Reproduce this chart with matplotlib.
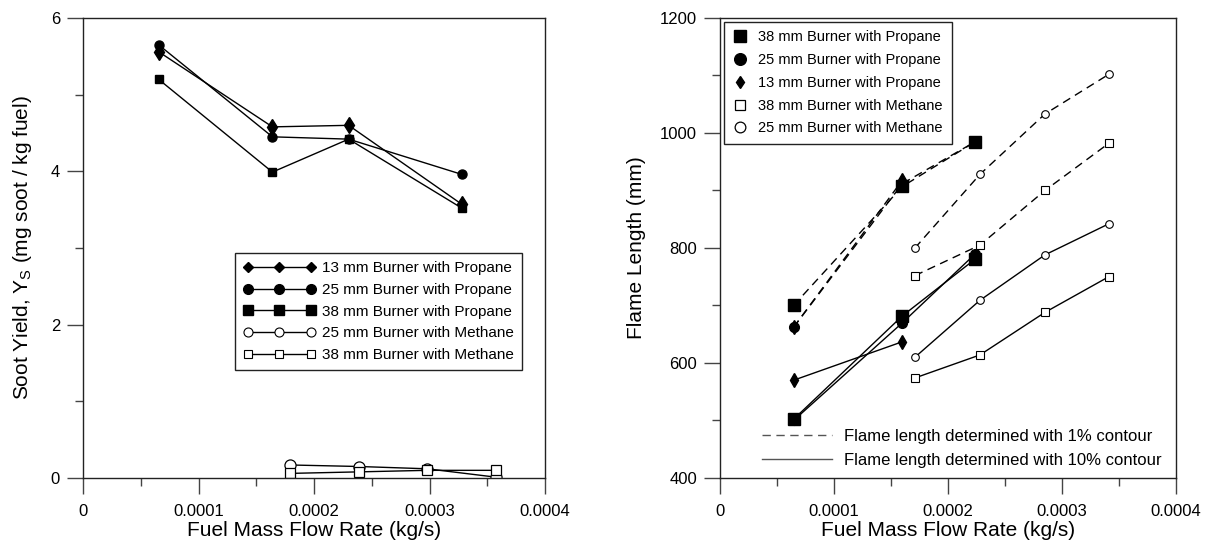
import matplotlib
matplotlib.use("Agg")
import matplotlib.pyplot as plt
from matplotlib.ticker import MultipleLocator, FuncFormatter
from matplotlib.lines import Line2D

plt.rcParams['font.family'] = ['Liberation Sans', 'DejaVu Sans']
plt.rcParams['mathtext.fontset'] = 'custom'
plt.rcParams['mathtext.rm'] = 'Liberation Sans'

# ---------------- Data: soot yield (left) ----------------
x_prop_soot = [0.0000655, 0.000164, 0.000230, 0.000328]
soot_13_prop = [5.56, 4.58, 4.60, 3.57]
soot_25_prop = [5.65, 4.45, 4.42, 3.96]
soot_38_prop = [5.20, 3.99, 4.42, 3.52]
x_meth_soot = [0.000179, 0.000239, 0.000298, 0.000358]
soot_25_meth = [0.17, 0.15, 0.12, 0.01]
soot_38_meth = [0.06, 0.08, 0.10, 0.10]

# ---------------- Data: flame length (right) ----------------
x_prop_fl = [0.0000645, 0.000160, 0.000224]
x_prop13_fl = [0.0000645, 0.000160]
fl_38_prop_1 = [700, 907, 985]
fl_38_prop_10 = [502, 682, 781]
fl_25_prop_1 = [662, 912, 985]
fl_25_prop_10 = [500, 670, 790]
fl_13_prop_1 = [662, 918]
fl_13_prop_10 = [570, 637]
x_meth_fl = [0.000171, 0.000228, 0.000285, 0.000341]
fl_25_meth_1 = [800, 928, 1033, 1102]
fl_25_meth_10 = [610, 709, 788, 842]
fl_38_meth_1 = [752, 805, 900, 982]
fl_38_meth_10 = [574, 614, 688, 750]

fig = plt.figure(figsize=(12.05, 5.42), dpi=100)
ax1 = fig.add_axes([83/1205, (542-478)/542, 462/1205, 460/542])
ax2 = fig.add_axes([720/1205, (542-478)/542, 456/1205, 460/542])

fmt = FuncFormatter(lambda v, p: "0" if abs(v) < 1e-12 else f"{v:g}")

LABEL_FS = 15
TICK_FS = 12

def style(ax):
    for s in ax.spines.values():
        s.set_linewidth(1.0)
        s.set_color('#222222')
    ax.tick_params(which='major', direction='out', length=11.5, width=1, labelsize=TICK_FS,
                   color='#444444', top=False, right=False)
    ax.tick_params(which='minor', direction='out', length=6, width=1,
                   color='#444444', top=False, right=False)
    ax.tick_params(axis='x', which='major', pad=7)
    ax.tick_params(axis='y', which='major', pad=5)
    ax.xaxis.set_major_locator(MultipleLocator(0.0001))
    ax.xaxis.set_minor_locator(MultipleLocator(0.00005))
    ax.xaxis.set_major_formatter(fmt)
    ax.set_xlim(0, 0.0004)
    ax.set_xlabel("Fuel Mass Flow Rate (kg/s)", fontsize=LABEL_FS, labelpad=2)

# ---------------- Left plot ----------------
lw = 1.0
ax1.plot(x_prop_soot, soot_25_prop, '-', color='black', lw=lw, marker='o', ms=6.5,
         mfc='black', mec='black')
ax1.plot(x_prop_soot, soot_38_prop, '-', color='black', lw=lw, marker='s', ms=6,
         mfc='black', mec='black')
ax1.plot(x_prop_soot, soot_13_prop, '-', color='black', lw=lw, marker='d', ms=8,
         mfc='black', mec='black')
ax1.plot(x_meth_soot, soot_25_meth, '-', color='black', lw=lw, marker='o', ms=8,
         mfc='white', mec='black', mew=0.9)
ax1.plot(x_meth_soot, soot_38_meth, '-', color='black', lw=lw, marker='s', ms=7.5,
         mfc='white', mec='black', mew=0.9)
ax1.set_ylim(0, 6)
ax1.yaxis.set_major_locator(MultipleLocator(2))
ax1.yaxis.set_minor_locator(MultipleLocator(1))
style(ax1)
ax1.set_ylabel(r"Soot Yield, Y$_\mathregular{S}$ (mg soot / kg fuel)", fontsize=LABEL_FS, labelpad=12)

lh = [Line2D([], [], color='black', lw=lw, marker='D', ms=4.8, mfc='black', mec='black'),
      Line2D([], [], color='black', lw=lw, marker='o', ms=7, mfc='black', mec='black'),
      Line2D([], [], color='black', lw=lw, marker='s', ms=6.5, mfc='black', mec='black'),
      Line2D([], [], color='black', lw=lw, marker='o', ms=6.5, mfc='white', mec='black', mew=0.8),
      Line2D([], [], color='black', lw=lw, marker='s', ms=6, mfc='white', mec='black', mew=0.8)]
ll = ['13 mm Burner with Propane', '25 mm Burner with Propane', '38 mm Burner with Propane',
      '25 mm Burner with Methane', '38 mm Burner with Methane']
leg1 = ax1.legend(lh, ll, loc='upper left', bbox_to_anchor=(0.329, 0.489), borderaxespad=0,
                  numpoints=3, handlelength=4.7, handletextpad=0.45, fontsize=11,
                  frameon=True, fancybox=False, edgecolor='#222222', framealpha=1,
                  labelspacing=0.5, borderpad=0.55)
leg1.get_frame().set_linewidth(1.0)

# ---------------- Right plot ----------------
dash = (0, (6, 4))
ax2.plot(x_prop_fl, fl_25_prop_1, color='black', lw=lw, ls=dash, marker='o', ms=7, mfc='black', mec='black')
ax2.plot(x_prop_fl, fl_25_prop_10, color='black', lw=lw, ls='-', marker='o', ms=7, mfc='black', mec='black')
ax2.plot(x_prop13_fl, fl_13_prop_1, color='black', lw=lw, ls=dash, marker='d', ms=7, mfc='black', mec='black')
ax2.plot(x_prop13_fl, fl_13_prop_10, color='black', lw=lw, ls='-', marker='d', ms=7, mfc='black', mec='black')
ax2.plot(x_prop_fl, fl_38_prop_1, color='black', lw=lw, ls=dash, marker='s', ms=8.5, mfc='black', mec='black')
ax2.plot(x_prop_fl, fl_38_prop_10, color='black', lw=lw, ls='-', marker='s', ms=8.5, mfc='black', mec='black')
ax2.plot(x_meth_fl, fl_25_meth_1, color='black', lw=lw, ls=dash, marker='o', ms=5.5, mfc='white', mec='black', mew=0.8)
ax2.plot(x_meth_fl, fl_25_meth_10, color='black', lw=lw, ls='-', marker='o', ms=5.5, mfc='white', mec='black', mew=0.8)
ax2.plot(x_meth_fl, fl_38_meth_1, color='black', lw=lw, ls=dash, marker='s', ms=5.5, mfc='white', mec='black', mew=0.8)
ax2.plot(x_meth_fl, fl_38_meth_10, color='black', lw=lw, ls='-', marker='s', ms=5.5, mfc='white', mec='black', mew=0.8)
ax2.set_ylim(400, 1200)
ax2.yaxis.set_major_locator(MultipleLocator(200))
ax2.yaxis.set_minor_locator(MultipleLocator(100))
style(ax2)
ax2.set_ylabel("Flame Length (mm)", fontsize=LABEL_FS, labelpad=10)

mh = [Line2D([], [], ls='none', marker='s', ms=8.4, mfc='black', mec='black'),
      Line2D([], [], ls='none', marker='o', ms=8.4, mfc='black', mec='black'),
      Line2D([], [], ls='none', marker='d', ms=6.5, mfc='black', mec='black'),
      Line2D([], [], ls='none', marker='s', ms=7.5, mfc='white', mec='black', mew=0.9),
      Line2D([], [], ls='none', marker='o', ms=7.7, mfc='white', mec='black', mew=0.9)]
ml = ['38 mm Burner with Propane', '25 mm Burner with Propane', '13 mm Burner with Propane',
      '38 mm Burner with Methane', '25 mm Burner with Methane']
leg2 = ax2.legend(mh, ml, loc='upper left', bbox_to_anchor=(0.009, 0.992), borderaxespad=0,
                  numpoints=1, handlelength=1.0, handletextpad=0.75, fontsize=10.5,
                  frameon=True, fancybox=False, edgecolor='#222222', framealpha=1,
                  labelspacing=0.6, borderpad=0.6)
leg2.get_frame().set_linewidth(1.0)
ax2.add_artist(leg2)

sh = [Line2D([], [], color='#555555', lw=1.0, ls=dash),
      Line2D([], [], color='#555555', lw=1.0, ls='-')]
sl = ['Flame length determined with 1% contour', 'Flame length determined with 10% contour']
ax2.legend(sh, sl, loc='lower left', bbox_to_anchor=(0.07, 0.0), borderaxespad=0.2,
           handlelength=4.2, handletextpad=0.7, fontsize=12, frameon=False,
           labelspacing=0.55)

fig.savefig('out.png', dpi=100)
